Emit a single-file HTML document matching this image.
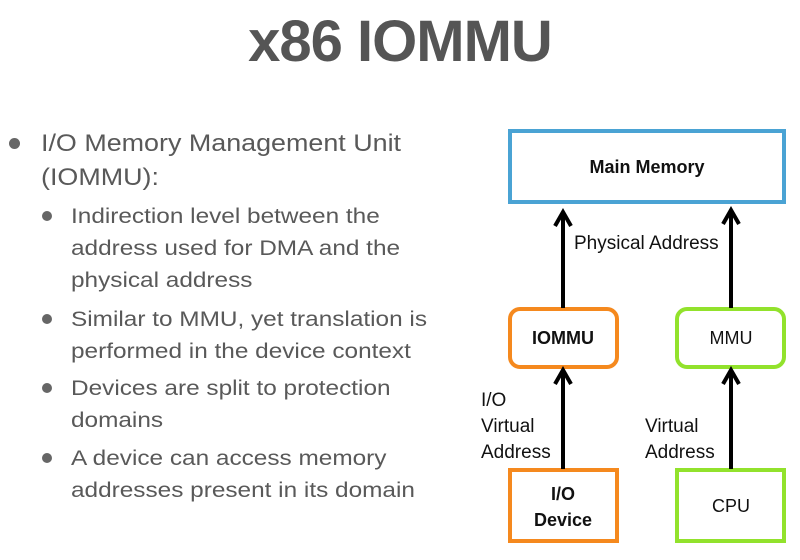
<!DOCTYPE html>
<html><head><style>
body{margin:0;width:800px;height:560px;background:#fff;position:relative;overflow:hidden;font-family:"Liberation Sans",sans-serif;}
.t{position:absolute;white-space:nowrap;color:#595959;transform-origin:0 0;}
.d{position:absolute;border-radius:50%;background:#666;}
</style></head><body>
<div class="t" style="left:0;width:800px;text-align:center;top:8px;font-size:58px;font-weight:bold;color:#555;letter-spacing:-1px">x86 IOMMU</div>

<div class="d" style="left:9px;top:138px;width:11px;height:11px"></div>
<div class="t" style="left:41px;top:127px;font-size:24px;line-height:34px;transform:scaleX(1.12)">I/O Memory Management Unit<br>(IOMMU):</div>

<div class="d" style="left:42px;top:211px;width:10px;height:10px"></div>
<div class="t" style="left:71px;top:201px;font-size:21px;line-height:32px;transform:scaleX(1.16)">Indirection level between the<br>address used for DMA and the<br>physical address</div>
<div class="d" style="left:42px;top:314px;width:10px;height:10px"></div>
<div class="t" style="left:71px;top:304px;font-size:21px;line-height:32px;transform:scaleX(1.16)">Similar to MMU, yet translation is<br>performed in the device context</div>
<div class="d" style="left:42px;top:383px;width:10px;height:10px"></div>
<div class="t" style="left:71px;top:373px;font-size:21px;line-height:32px;transform:scaleX(1.16)">Devices are split to protection<br>domains</div>
<div class="d" style="left:42px;top:453px;width:10px;height:10px"></div>
<div class="t" style="left:71px;top:443px;font-size:21px;line-height:32px;transform:scaleX(1.16)">A device can access memory<br>addresses present in its domain</div>

<svg width="800" height="560" style="position:absolute;left:0;top:0" font-family="Liberation Sans, sans-serif">
<rect x="510" y="131" width="274" height="71" fill="#fff" stroke="#4aa3d4" stroke-width="4"/>
<text x="647" y="173" text-anchor="middle" font-size="18" font-weight="bold" fill="#111">Main Memory</text>
<rect x="510" y="309" width="107" height="58" rx="10" fill="#fff" stroke="#f5891e" stroke-width="4"/>
<text x="563" y="344" text-anchor="middle" font-size="18" font-weight="bold" fill="#111">IOMMU</text>
<rect x="677" y="309" width="107" height="58" rx="10" fill="#fff" stroke="#92e22c" stroke-width="4"/>
<text x="731" y="344" text-anchor="middle" font-size="18" fill="#111">MMU</text>
<rect x="510" y="470" width="107" height="71" fill="#fff" stroke="#f5891e" stroke-width="4"/>
<text x="563" y="500" text-anchor="middle" font-size="18" font-weight="bold" fill="#111">I/O</text>
<text x="563" y="526" text-anchor="middle" font-size="18" font-weight="bold" fill="#111">Device</text>
<rect x="677" y="470" width="107" height="71" fill="#fff" stroke="#92e22c" stroke-width="4"/>
<text x="731" y="512" text-anchor="middle" font-size="18" fill="#111">CPU</text>
<g stroke="#000" stroke-width="4" fill="none">
<line x1="563" y1="308" x2="563" y2="214"/><polyline points="555,226 563,212 571,226"/>
<line x1="731" y1="308" x2="731" y2="212"/><polyline points="723,224 731,210 739,224"/>
<line x1="563" y1="469" x2="563" y2="372"/><polyline points="555,384 563,370 571,384"/>
<line x1="731" y1="469" x2="731" y2="372"/><polyline points="723,384 731,370 739,384"/>
</g>
<g font-size="19" fill="#111">
<text x="574" y="249">Physical Address</text>
<text x="481" y="406">I/O</text>
<text x="481" y="432">Virtual</text>
<text x="481" y="458">Address</text>
<text x="645" y="432">Virtual</text>
<text x="645" y="458">Address</text>
</g>
</svg>
</body></html>
